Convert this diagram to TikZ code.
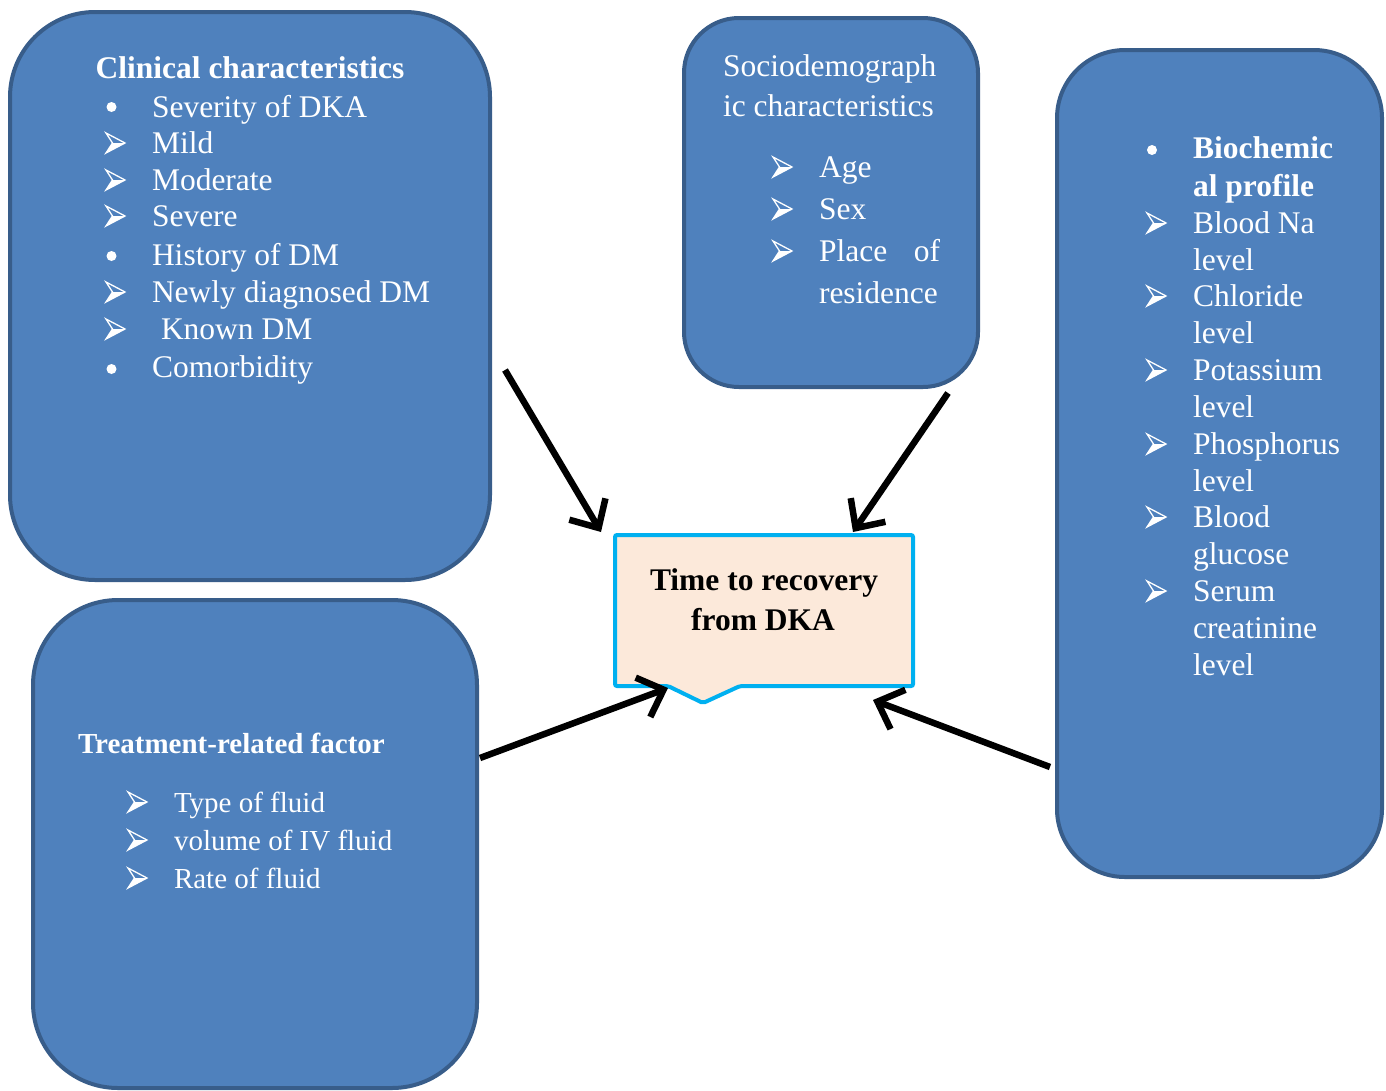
\documentclass[tikz,border=0pt]{standalone}
\usepackage{fontspec}
\setmainfont{Liberation Serif}
\usetikzlibrary{arrows.meta}
\definecolor{boxfill}{HTML}{4F81BD}
\definecolor{boxline}{HTML}{385D8A}
\definecolor{calfill}{HTML}{FCE9DA}
\definecolor{calline}{HTML}{00B0F0}
\tikzset{
  bluebox/.style={draw=boxline, fill=boxfill, line width=4pt, inner sep=0pt, outer sep=0pt},
  txt/.style={anchor=base west, inner sep=0pt, outer sep=0pt, text=white, font=\fontsize{31.5}{37}\selectfont},
  ttxt/.style={anchor=base west, inner sep=0pt, outer sep=0pt, text=white, font=\fontsize{29}{35}\selectfont},
  ctxt/.style={anchor=base, inner sep=0pt, outer sep=0pt, text=black, font=\fontsize{31.5}{37}\selectfont\bfseries},
  blt/.style={circle, fill=white, inner sep=0pt, outer sep=0pt, minimum size=10pt},
  conn/.style={line width=6.5pt, black, -{Straight Barb[length=22pt,width=42pt]}},
  arrbul/.pic={
    \fill[white] (0,0) -- (19,-10) -- (6.5,-10) -- cycle;
    \draw[white, line width=1.3pt, line join=miter] (0,-20) -- (19,-10) -- (0,0) -- (6.5,-10) -- cycle;
  }
}
\begin{document}
\begin{tikzpicture}[x=1pt,y=-1pt]
\clip (0,0) rectangle (1386,1090);
\fill[white] (0,0) rectangle (1386,1090);
% boxes
\node[bluebox, minimum width=480pt, minimum height=568pt, rounded corners=85pt] (clin) at (250,296) {};
\node[bluebox, minimum width=294pt, minimum height=369pt, rounded corners=55pt] (socio) at (831,202.5) {};
\node[bluebox, minimum width=325pt, minimum height=827pt, rounded corners=68pt] (bio) at (1219.5,463.5) {};
\node[bluebox, minimum width=444pt, minimum height=488pt, rounded corners=85pt] (treat) at (255,844) {};
% callout
\draw[draw=calline, fill=calfill, line width=4pt, rounded corners=2pt]
  (615,535) -- (913,535) -- (913,686) -- (740,686) -- (703,703) -- (668,686) -- (615,686) -- cycle;
\node[ctxt] (out1) at (764,590) {Time to recovery};
\node[ctxt] (out2) at (763,630) {from DKA};
% clinical
\node[txt, anchor=base, font=\fontsize{31.5}{37}\selectfont\bfseries] (ch) at (250,78) {Clinical characteristics};
\node[blt] (cb1) at (111.5,107) {};
\node[txt] (ct1) at (152,117) {Severity of DKA};
\pic at (106,153) {arrbul};
\node[txt] (ct2) at (152,153) {Mild};
\pic at (106,190) {arrbul};
\node[txt] (ct3) at (152,190) {Moderate};
\pic at (106,226) {arrbul};
\node[txt] (ct4) at (152,226) {Severe};
\node[blt] (cb5) at (111.5,256) {};
\node[txt] (ct5) at (152,265) {History of DM};
\pic at (106,302) {arrbul};
\node[txt] (ct6) at (152,302) {Newly diagnosed DM};
\pic at (106,339) {arrbul};
\node[txt] (ct7) at (161,339) {Known DM};
\node[blt] (cb8) at (111.5,369) {};
\node[txt] (ct8) at (152,377) {Comorbidity};
% sociodemographic
\node[txt] (sh1) at (723,76) {Sociodemograph};
\node[txt] (sh2) at (723,116) {ic characteristics};
\pic at (773,177) {arrbul};
\node[txt] (st1) at (819,177) {Age};
\pic at (773,219) {arrbul};
\node[txt] (st2) at (819,219) {Sex};
\pic at (773,261) {arrbul};
\node[txt] (st3) at (819,261) {Place};
\node[txt, anchor=base east] (st3b) at (940,261) {of};
\node[txt] (st4) at (819,303) {residence};
% biochemical
\node[blt] (bb0) at (1152,150) {};
\node[txt, font=\fontsize{31.5}{37}\selectfont\bfseries] (bh1) at (1193,158) {Biochemic};
\node[txt, font=\fontsize{31.5}{37}\selectfont\bfseries] (bh2) at (1193,196) {al profile};
\pic at (1147,233) {arrbul};
\node[txt] (bt1) at (1193,233) {Blood Na};
\node[txt] (bt1b) at (1193,270) {level};
\pic at (1147,306) {arrbul};
\node[txt] (bt2) at (1193,306) {Chloride};
\node[txt] (bt2b) at (1193,343) {level};
\pic at (1147,380) {arrbul};
\node[txt] (bt3) at (1193,380) {Potassium};
\node[txt] (bt3b) at (1193,417) {level};
\pic at (1147,454) {arrbul};
\node[txt] (bt4) at (1193,454) {Phosphorus};
\node[txt] (bt4b) at (1193,491) {level};
\pic at (1147,527) {arrbul};
\node[txt] (bt5) at (1193,527) {Blood};
\node[txt] (bt5b) at (1193,564) {glucose};
\pic at (1147,601) {arrbul};
\node[txt] (bt6) at (1193,601) {Serum};
\node[txt] (bt6b) at (1193,638) {creatinine};
\node[txt] (bt6c) at (1193,675) {level};
% treatment
\node[ttxt, font=\fontsize{29}{35}\selectfont\bfseries] (th) at (78,753) {Treatment-related factor};
\pic at (128,812) {arrbul};
\node[ttxt] (tt1) at (174,812) {Type of fluid};
\pic at (128,850) {arrbul};
\node[ttxt] (tt2) at (174,850) {volume of IV fluid};
\pic at (128,888) {arrbul};
\node[ttxt] (tt3) at (174,888) {Rate of fluid};
% connectors
\coordinate (a1s) at (505,370); \coordinate (a1e) at (601,532);
\coordinate (a2s) at (948,393); \coordinate (a2e) at (853,532);
\coordinate (a3s) at (480,758); \coordinate (a3e) at (668,688);
\coordinate (a4s) at (1050,767); \coordinate (a4e) at (873,700);
\draw[conn] (a1s) -- (a1e);
\draw[conn] (a2s) -- (a2e);
\draw[conn] (a3s) -- (a3e);
\draw[conn] (a4s) -- (a4e);
\end{tikzpicture}
\end{document}
